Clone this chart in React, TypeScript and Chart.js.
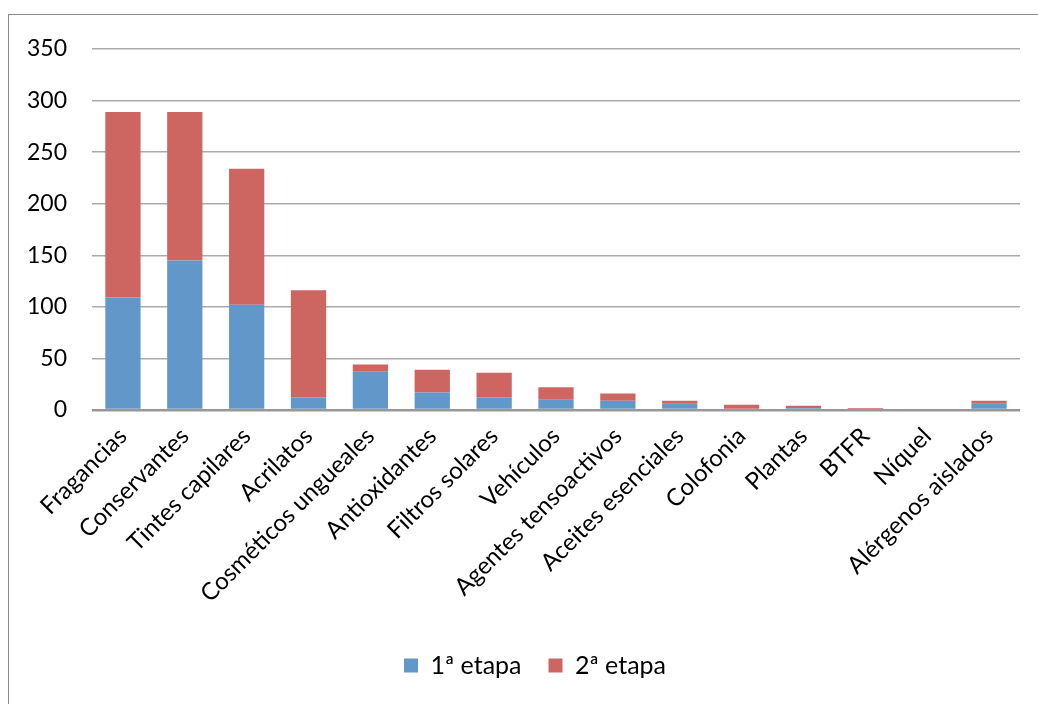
import React, { useEffect, useRef } from "react";
import { Chart, registerables } from "chart.js";

Chart.register(...registerables);

const categories = [
  "Fragancias",
  "Conservantes",
  "Tintes capilares",
  "Acrilatos",
  "Cosméticos ungueales",
  "Antioxidantes",
  "Filtros solares",
  "Vehículos",
  "Agentes tensoactivos",
  "Aceites esenciales",
  "Colofonia",
  "Plantas",
  "BTFR",
  "Níquel",
  "Alérgenos aislados",
];

const etapa1 = [109, 145, 102, 12, 37, 17, 12, 10, 9, 6, 0, 2, 0, 0, 6];
const etapa2 = [180, 144, 132, 104, 7, 22, 24, 12, 7, 3, 5, 2, 2, 0, 3];

const seriesNames = ["1ª etapa", "2ª etapa"];
const seriesColors = ["#6197C9", "#CD6660"];

const FONT = "Lato, 'Liberation Sans', sans-serif";

// Centre the legend under the whole frame rather than under the canvas minus the right inset.
const legendShift = {
  id: "legendShift",
  afterLayout(chart: any) {
    if (chart.legend) chart.legend.left += 50;
  },
};

export default function App() {
  const canvasRef = useRef<HTMLCanvasElement>(null);

  useEffect(() => {
    if (!canvasRef.current) return;
    const chart = new Chart(canvasRef.current, {
      type: "bar",
      data: {
        labels: categories,
        datasets: [
          {
            label: seriesNames[0],
            data: etapa1,
            backgroundColor: seriesColors[0],
            categoryPercentage: 1,
            barPercentage: 0.57,
          },
          {
            label: seriesNames[1],
            data: etapa2,
            backgroundColor: seriesColors[1],
            categoryPercentage: 1,
            barPercentage: 0.57,
          },
        ],
      },
      options: {
        animation: false,
        responsive: false,
        maintainAspectRatio: false,
        layout: { padding: { left: 0, right: 18, top: 49, bottom: 16 } },
        plugins: {
          tooltip: { enabled: false },
          legend: {
            position: "bottom",
            labels: {
              boxWidth: 14,
              boxHeight: 14,
              padding: 27,
              color: "#000",
              font: { family: FONT, size: 25 },
            },
          },
        },
        scales: {
          x: {
            stacked: true,
            grid: { display: false, drawTicks: false },
            border: { display: false },
            ticks: {
              color: "#000",
              font: { family: FONT, size: 24 },
              minRotation: 45,
              maxRotation: 45,
              autoSkip: false,
              padding: 12,
            },
            afterFit: (scale: any) => {
              scale.height = 216;
            },
          },
          y: {
            stacked: true,
            min: 0,
            max: 350,
            grid: {
              drawTicks: false,
              color: (ctx: any) => (ctx.tick && ctx.tick.value === 0 ? "#989898" : "#ababab"),
              lineWidth: (ctx: any) => (ctx.tick && ctx.tick.value === 0 ? 2.5 : 1.5),
            },
            border: { display: false },
            ticks: {
              stepSize: 50,
              color: "#000",
              font: { family: FONT, size: 23 },
              padding: 25,
            },
            afterFit: (scale: any) => {
              scale.width = 92;
            },
          },
        },
      },
      plugins: [legendShift],
    });
    return () => chart.destroy();
  }, []);

  return (
    <div
      style={{
        position: "fixed",
        left: 0,
        top: 0,
        width: 1038,
        height: 704,
        overflow: "hidden",
        background: "#fff",
      }}
    >
      <div
        style={{
          position: "absolute",
          left: 8,
          top: 14,
          width: 1040,
          height: 700,
          border: "1px solid #8c8c8c",
          boxSizing: "border-box",
        }}
      />
      <canvas
        ref={canvasRef}
        width={1038}
        height={704}
        style={{ position: "absolute", left: 0, top: 0 }}
      />
    </div>
  );
}
